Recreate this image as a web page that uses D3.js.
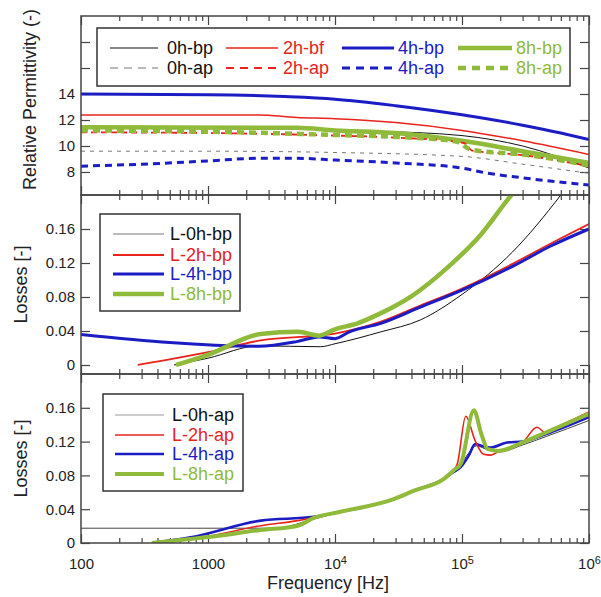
<!DOCTYPE html>
<html lang="en">
<head>
<meta charset="UTF-8">
<title>Permittivity and losses</title>
<script src="https://d3js.org/d3.v7.min.js"></script>
<style>
    body { margin: 0; padding: 0; background: #fff; }
    svg { display: block; font-family: "Liberation Sans", Arial, sans-serif; }
    .tick text { font-size: 15px; fill: #222; }
    .tick line { stroke: #444; stroke-width: 1.2px; }
    .frame { fill: none; stroke: #444; stroke-width: 1.5px; }
    .ytitle { font-size: 18px; fill: #222; }
    .legend-box { fill: #fff; stroke: #333; stroke-width: 1.5px; }
    .legend text { font-size: 18px; }
</style>
</head>
<body>
<svg width="601" height="597"></svg>
<script>
// frequency axis
const freqTicks = [100, 1000, 1e4, 1e5, 1e6];
const permTicks = [8, 10, 12, 14, 16, 18];
const lossTicks = [0, 0.04, 0.08, 0.12, 0.16];

// top panel: relative permittivity  [Hz, value]
const perm0hBp = [[100,11.5],[1000,11.45],[5000,11.35],[2e4,11.15],[1e5,10.8],[3e5,10.0],[1e6,8.3]];
const perm2hBf = [[100,12.38],[2500,12.38],[5000,12.2],[1e4,12.1],[3e4,11.8],[1e5,11.2],[3e5,10.4],[1e6,9.35]];
const perm4hBp = [[100,14.0],[1000,13.95],[4000,13.8],[1e4,13.6],[3e4,13.1],[1e5,12.4],[3e5,11.6],[6e5,11.0],[1e6,10.5]];
const perm8hBp = [[100,11.45],[5000,11.4],[1e4,11.2],[3e4,11.0],[1e5,10.4],[3e5,9.6],[1e6,8.7]];
const perm0hAp = [[100,9.6],[1000,9.6],[1e4,9.5],[1e5,9.2],[3e5,8.6],[1e6,7.9]];
const perm2hAp = [[100,11.05],[1000,11.0],[1e4,10.8],[3e4,10.65],[9.5e4,10.3],[1.05e5,10.2],[1.2e5,9.65],[3e5,9.3],[1e6,8.45]];
const perm4hAp = [[100,8.45],[300,8.6],[1000,8.85],[2500,9.05],[5000,9.05],[1e4,8.92],[3e4,8.7],[1e5,8.3],[1.5e5,7.95],[3e5,7.55],[1e6,7.0]];
const perm8hAp = [[100,11.2],[1000,11.1],[1e4,10.85],[3e4,10.7],[9e4,10.35],[1.15e5,9.75],[1.3e5,9.65],[3e5,9.35],[1e6,8.5]];

// middle panel: losses before
const loss0hBp = [[540,0.0],[1000,0.008],[2500,0.0225],[7700,0.0215],[1e4,0.025],[2.3e4,0.039],[4.7e4,0.053],[1e5,0.083],[2.5e5,0.133],[6e5,0.2],[1e6,0.245]];
const loss2hBp = [[280,0.0],[1000,0.015],[2600,0.029],[1e4,0.037],[2.3e4,0.051],[4.7e4,0.07],[1e5,0.09],[2.5e5,0.119],[5e5,0.143],[1e6,0.166]];
const loss4hBp = [[100,0.036],[2500,0.022],[5000,0.0275],[7500,0.033],[1e4,0.031],[1.3e4,0.039],[2.3e4,0.049],[4.7e4,0.068],[1e5,0.088],[2.5e5,0.116],[5e5,0.14],[1e6,0.16]];
const loss8hBp = [[560,0.0],[1000,0.012],[2600,0.0365],[5100,0.039],[7500,0.0345],[1e4,0.042],[1.5e4,0.049],[2.3e4,0.061],[4.1e4,0.082],[7.6e4,0.114],[1.4e5,0.153],[2.45e5,0.2],[3e5,0.215]];

// bottom panel: losses after
const loss0hAp = [[100,0.0175],[3500,0.0175],[6000,0.026],[1.06e4,0.036],[2.9e4,0.052],[4.2e4,0.061],[7.2e4,0.075],[9.5e4,0.09],[1.15e5,0.108],[1.3e5,0.115],[1.6e5,0.11],[2e5,0.108],[3e5,0.116],[4.6e5,0.126],[1e6,0.145]];
const loss2hAp = [[362,0.0],[1000,0.008],[2600,0.0205],[5100,0.0265],[1.06e4,0.0364],[2.9e4,0.052],[4.2e4,0.062],[7.2e4,0.076],[8.6e4,0.086],[9.2e4,0.094],[1.07e5,0.15],[1.27e5,0.121],[1.48e5,0.105],[1.68e5,0.104],[1.98e5,0.109],[3e5,0.119],[3.9e5,0.137],[4.5e5,0.131],[6.3e5,0.141],[1e6,0.155]];
const loss4hAp = [[362,0.0],[730,0.0068],[2600,0.0265],[6800,0.031],[1.06e4,0.0364],[2.9e4,0.052],[4.2e4,0.062],[7.2e4,0.076],[8.6e4,0.084],[9.8e4,0.09],[1.13e5,0.1035],[1.27e5,0.117],[1.42e5,0.115],[1.68e5,0.113],[2.27e5,0.119],[3e5,0.12],[4.6e5,0.129],[1e6,0.149]];
const loss8hAp = [[362,0.0],[1000,0.007],[2600,0.0154],[5100,0.0205],[6800,0.0296],[1.06e4,0.0364],[2.9e4,0.052],[4.2e4,0.062],[7.2e4,0.076],[8.6e4,0.086],[9.8e4,0.094],[1.24e5,0.157],[1.42e5,0.129],[1.6e5,0.111],[1.94e5,0.109],[3e5,0.119],[4.6e5,0.131],[1e6,0.153]];

const RED = "#e8231c", BLUE = "#1c1cc4", GREEN = "#8fba3a";

const svg = d3.select("svg");
const x = d3.scaleLog().domain([100, 1e6]).range([81, 589]);
const minorTicks = [];
[100, 1000, 1e4, 1e5].forEach(d => { for (let k = 2; k < 10; k++) minorTicks.push(d * k); });

const panels = [
    {
        top: 16, bottom: 195, domain: [6.23, 20], ticks: permTicks,
        fmt: d => (d <= 14 ? d : ""),
        title: "Relative Permittivity (-)", titleX: 36,
        series: [
            { name: "0h-bp", data: perm0hBp, color: "#111", text: "#111", width: 1 },
            { name: "0h-ap", data: perm0hAp, color: "#777", text: "#111", width: 1, dash: "4,5" },
            { name: "2h-bf", data: perm2hBf, color: RED, text: RED, width: 1.5 },
            { name: "2h-ap", data: perm2hAp, color: RED, text: RED, width: 1.8, dash: "6,4" },
            { name: "4h-bp", data: perm4hBp, color: BLUE, text: BLUE, width: 3 },
            { name: "4h-ap", data: perm4hAp, color: BLUE, text: BLUE, width: 3, dash: "7,5" },
            { name: "8h-bp", data: perm8hBp, color: GREEN, text: GREEN, width: 4.5 },
            { name: "8h-ap", data: perm8hAp, color: GREEN, text: GREEN, width: 4.5, dash: "7,5" }
        ],
        drawOrder: ["0h-ap", "4h-ap", "0h-bp", "8h-bp", "2h-ap", "8h-ap", "2h-bf", "4h-bp"]
    },
    {
        top: 195, bottom: 374, domain: [-0.0106, 0.2], ticks: lossTicks,
        fmt: d => (d === 0 ? "0" : d3.format(".2f")(d)),
        title: "Losses [-]", titleX: 27,
        series: [
            { name: "L-0h-bp", data: loss0hBp, color: "#111", sample: "#777", text: "#111", width: 1 },
            { name: "L-2h-bp", data: loss2hBp, color: RED, text: RED, width: 1.8 },
            { name: "L-4h-bp", data: loss4hBp, color: BLUE, text: BLUE, width: 3 },
            { name: "L-8h-bp", data: loss8hBp, color: GREEN, text: GREEN, width: 4.5 }
        ]
    },
    {
        top: 374, bottom: 543, domain: [0, 0.2], ticks: lossTicks,
        fmt: d => (d === 0 ? "0" : d3.format(".2f")(d)),
        title: "Losses [-]", titleX: 27, xLabels: true,
        series: [
            { name: "L-0h-ap", data: loss0hAp, color: "#444", sample: "#999", text: "#111", width: 1 },
            { name: "L-2h-ap", data: loss2hAp, color: RED, text: RED, width: 1.6 },
            { name: "L-4h-ap", data: loss4hAp, color: BLUE, text: BLUE, width: 2.6 },
            { name: "L-8h-ap", data: loss8hAp, color: GREEN, text: GREEN, width: 4 }
        ],
        drawOrder: ["L-0h-ap", "L-4h-ap", "L-2h-ap", "L-8h-ap"]
    }
];

// legend layouts
panels[0].legend = { box: [97, 28, 473, 58], grid: true };
panels[1].legend = { box: [100, 214, 140, 97], rows: [234, 255, 274, 294], lx: [113, 164], tx: 170 };
panels[2].legend = { box: [103, 394, 140, 97], rows: [415, 435, 454, 474], lx: [115, 164], tx: 172 };

panels.forEach((p, i) => {
    const y = d3.scaleLinear().domain(p.domain).range([p.bottom, p.top]);
    const g = svg.append("g");

    const clipId = "clip" + i;
    svg.append("clipPath").attr("id", clipId)
        .append("rect").attr("x", 81).attr("y", p.top).attr("width", 508).attr("height", p.bottom - p.top);

    // x ticks, inward on both borders
    [[d3.axisBottom, p.bottom, -1], [d3.axisTop, p.top, -1]].forEach(([ax, yy]) => {
        g.append("g").attr("transform", `translate(0,${yy})`)
            .call(ax(x).tickValues(minorTicks).tickSize(-5).tickFormat(""))
            .call(s => s.select(".domain").remove());
        const major = g.append("g").attr("transform", `translate(0,${yy})`)
            .call(ax(x).tickValues(freqTicks).tickSize(-9).tickPadding(12).tickFormat(""))
            .call(s => s.select(".domain").remove());
        if (p.xLabels && ax === d3.axisBottom) {
            major.selectAll(".tick text").each(function (d) {
                const t = d3.select(this).attr("y", 15).attr("dy", "0.71em");
                if (d < 1e4) { t.text(d); }
                else {
                    t.text("10");
                    t.append("tspan").attr("dy", "-0.45em").style("font-size", "11px").text(Math.round(Math.log10(d)));
                }
            });
        }
    });

    // y ticks, left with labels, right plain
    g.append("g").attr("transform", "translate(81,0)")
        .call(d3.axisLeft(y).tickValues(p.ticks).tickSize(-9).tickPadding(6).tickFormat(p.fmt))
        .call(s => s.select(".domain").remove());
    g.append("g").attr("transform", "translate(589,0)")
        .call(d3.axisRight(y).tickValues(p.ticks).tickSize(-9).tickFormat(""))
        .call(s => s.select(".domain").remove());

    // curves
    const line = d3.line().x(d => x(d[0])).y(d => y(d[1])).curve(d3.curveMonotoneX);
    const order = p.drawOrder || p.series.map(s => s.name);
    const curves = g.append("g").attr("clip-path", `url(#${clipId})`);
    order.forEach(n => {
        const s = p.series.find(v => v.name === n);
        curves.append("path").datum(s.data)
            .attr("d", line)
            .attr("fill", "none")
            .attr("stroke", s.color)
            .attr("stroke-width", s.width)
            .attr("stroke-linejoin", "round")
            .attr("stroke-dasharray", s.dash || null);
    });

    g.append("rect").attr("class", "frame")
        .attr("x", 81).attr("y", p.top).attr("width", 508).attr("height", p.bottom - p.top);

    // y title
    g.append("text").attr("class", "ytitle")
        .attr("transform", `translate(${p.titleX},${(p.top + p.bottom) / 2 + (i === 0 ? -6 : 0)}) rotate(-90)`)
        .attr("text-anchor", "middle")
        .text(p.title);

    // legend
    const L = p.legend;
    const lg = g.append("g").attr("class", "legend");
    lg.append("rect").attr("class", "legend-box")
        .attr("x", L.box[0]).attr("y", L.box[1]).attr("width", L.box[2]).attr("height", L.box[3]);
    p.series.forEach((s, k) => {
        let lx, ly, tx;
        if (L.grid) {
            const col = Math.floor(k / 2), row = k % 2;
            const cols = [[110, 158, 167], [226, 278, 283], [342, 394, 398], [458, 512, 516]];
            lx = [cols[col][0], cols[col][1]]; tx = cols[col][2];
            ly = row === 0 ? 48 : 68;
        } else {
            lx = L.lx; tx = L.tx; ly = L.rows[k];
        }
        lg.append("line")
            .attr("x1", lx[0]).attr("x2", lx[1]).attr("y1", ly).attr("y2", ly)
            .attr("stroke", s.sample || s.color)
            .attr("stroke-width", s.width)
            .attr("stroke-dasharray", s.dash ? "8,6" : null);
        lg.append("text").attr("x", tx).attr("y", ly).attr("dy", "0.35em")
            .attr("fill", s.text).text(s.name);
    });
});

svg.append("text").attr("x", 328).attr("y", 589)
    .attr("text-anchor", "middle").style("font-size", "18px").attr("fill", "#222")
    .text("Frequency [Hz]");
</script>
</body>
</html>
